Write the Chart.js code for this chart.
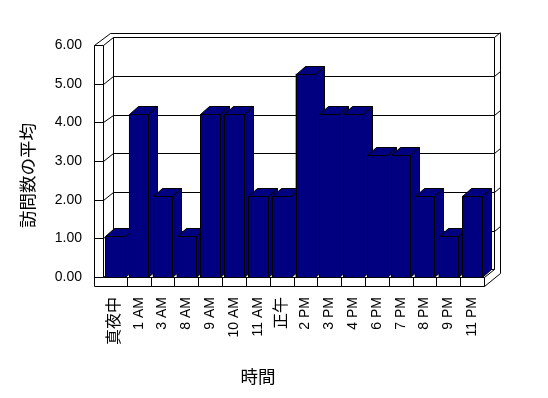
<!DOCTYPE html>
<html><head><meta charset="utf-8">
<script src="https://cdn.jsdelivr.net/npm/chart.js@4"></script>
<style>html,body{margin:0;padding:0;background:#fff}#wrap{width:548px;height:398px}</style>
</head><body><div id="wrap"><canvas id="c" width="548" height="398"></canvas></div>
<script>
const categories = ['真夜中','1 AM','3 AM','8 AM','9 AM','10 AM','11 AM','正午','2 PM','3 PM','4 PM','6 PM','7 PM','8 PM','9 PM','11 PM'];
const values = [1,4,2,1,4,4,2,2,5,4,4,3,3,2,1,2];
const yTickValues = [0,1,2,3,4,5,6];
const yTitle = '訪問数の平均';
const xTitle = '時間';

const FONT = '"Liberation Sans", Arial, "Noto Sans CJK JP", sans-serif';
const CJK = '"Noto Sans CJK JP", sans-serif';
const NAVY = '#000080';

function line(ctx, x1, y1, x2, y2) {
  ctx.beginPath(); ctx.moveTo(x1 + .5, y1 + .5); ctx.lineTo(x2 + .5, y2 + .5); ctx.stroke();
}

const box3d = {
  id: 'box3d',
  beforeDatasetsDraw(chart) {
    const ctx = chart.ctx, a = chart.chartArea, yl = chart.scales.yl, xs = chart.scales.x;
    const L = Math.round(a.left), R = Math.round(a.right), T = Math.round(a.top), B = Math.round(a.bottom);
    const OL = L - 9, floorB = B + 9, BL = L + 10, BR = R + 10, OR = R + 16;
    const yTop = Math.round(yl.getPixelForValue(yTickValues[yTickValues.length - 1]));
    const backY = v => Math.round(yl.getPixelForValue(v) - 7.7);
    const yb0 = backY(yTickValues[0]), ybN = backY(yTickValues[yTickValues.length - 1]);
    ctx.save();
    ctx.strokeStyle = '#000'; ctx.lineWidth = 1;
    // walls outline
    line(ctx, OL, yTop, OL, floorB);
    line(ctx, L, yTop, L, B);
    line(ctx, OL, yTop, BL - 3, T);
    line(ctx, BL - 3, T, OR, T);
    line(ctx, OR, T, OR, floorB - 13);
    line(ctx, BL, ybN, BL, yb0);
    line(ctx, BR, ybN, BR, yb0);
    // floor
    line(ctx, OL, floorB, R, floorB);
    line(ctx, L, B, R, B);
    line(ctx, R, B, R, floorB);
    line(ctx, R, floorB, OR, floorB - 13);
    line(ctx, R, B, BR, yb0);
    for (let k = 1; k < categories.length; k++) {
      const xk = Math.round((xs.getPixelForValue(k - 1) + xs.getPixelForValue(k)) / 2);
      line(ctx, xk, B, xk, floorB);
    }
    // gridlines
    yTickValues.forEach((v, i) => {
      const yf = Math.round(yl.getPixelForValue(v));
      const yb = backY(v);
      line(ctx, OL, yf, L, yf);
      line(ctx, L, yf, BL, yb);
      line(ctx, BL, yb, BR, yb);
      if (i > 0) line(ctx, BR, yb, OR, yb - 5);
    });
    ctx.restore();
  },
  afterDatasetsDraw(chart) {
    const ctx = chart.ctx;
    const meta = chart.getDatasetMeta(0);
    const dx = 9, dy = 8;
    ctx.save();
    ctx.strokeStyle = '#000'; ctx.lineWidth = 1; ctx.fillStyle = NAVY;
    meta.data.forEach(bar => {
      const p = bar.getProps(['x', 'y', 'base', 'width'], true);
      const x0 = Math.round(p.x - p.width / 2), x1 = Math.round(p.x + p.width / 2);
      const yt = Math.round(p.y), yb = Math.round(p.base);
      // front
      ctx.fillRect(x0, yt, x1 - x0, yb - yt);
      ctx.strokeRect(x0 + .5, yt + .5, x1 - x0, yb - yt);
      // top
      ctx.beginPath();
      ctx.moveTo(x0 + .5, yt + .5); ctx.lineTo(x0 + dx + .5, yt - dy + .5);
      ctx.lineTo(x1 + dx + .5, yt - dy + .5); ctx.lineTo(x1 + .5, yt + .5); ctx.closePath();
      ctx.fill(); ctx.stroke();
      // side
      ctx.beginPath();
      ctx.moveTo(x1 + .5, yt + .5); ctx.lineTo(x1 + dx + .5, yt - dy + .5);
      ctx.lineTo(x1 + dx + .5, yb - dy + .5); ctx.lineTo(x1 + .5, yb + .5); ctx.closePath();
      ctx.fill(); ctx.stroke();
    });
    ctx.restore();
  },
  afterDraw(chart) {
    const ctx = chart.ctx;
    ctx.save();
    ctx.fillStyle = '#000';
    ctx.font = '17.5px ' + CJK;
    ctx.textAlign = 'center'; ctx.textBaseline = 'middle';
    ctx.fillText(xTitle, 258, 376);
    ctx.translate(27.5, 175.5);
    ctx.rotate(-Math.PI / 2);
    ctx.fillText(yTitle, 0, 0);
    ctx.restore();
  }
};

new Chart(document.getElementById('c'), {
  type: 'bar',
  data: {
    labels: categories,
    datasets: [{ data: values, yAxisID: 'y', backgroundColor: NAVY, borderWidth: 0,
      categoryPercentage: 1, barPercentage: 0.82 }]
  },
  options: {
    responsive: false, animation: false, devicePixelRatio: 1,
    layout: { padding: { left: 0, right: 64, top: 33, bottom: 0 } },
    plugins: { legend: { display: false }, tooltip: { enabled: false }, title: { display: false } },
    scales: {
      x: {
        type: 'category', offset: true,
        grid: { display: false, drawTicks: false }, border: { display: false },
        ticks: {
          autoSkip: false, minRotation: 90, maxRotation: 90, padding: 20, color: '#000',
          font: c => ({ family: FONT, size: /[^\x00-\x7F]/.test(categories[c.index] || '') ? 16 : 14 })
        },
        afterFit: s => { s.height = 121; }
      },
      y: { display: false, min: 0, max: 6 },
      yl: {
        position: 'left', min: 0, max: 1464 / 232,
        grid: { display: false, drawTicks: false }, border: { display: false },
        afterBuildTicks: s => { s.ticks = yTickValues.map(v => ({ value: v })); },
        ticks: { padding: 21, color: '#000', font: { family: FONT, size: 14 },
          callback: v => Number(v).toFixed(2) },
        afterFit: s => { s.width = 103; }
      }
    }
  },
  plugins: [box3d]
});
</script>
</body></html>
